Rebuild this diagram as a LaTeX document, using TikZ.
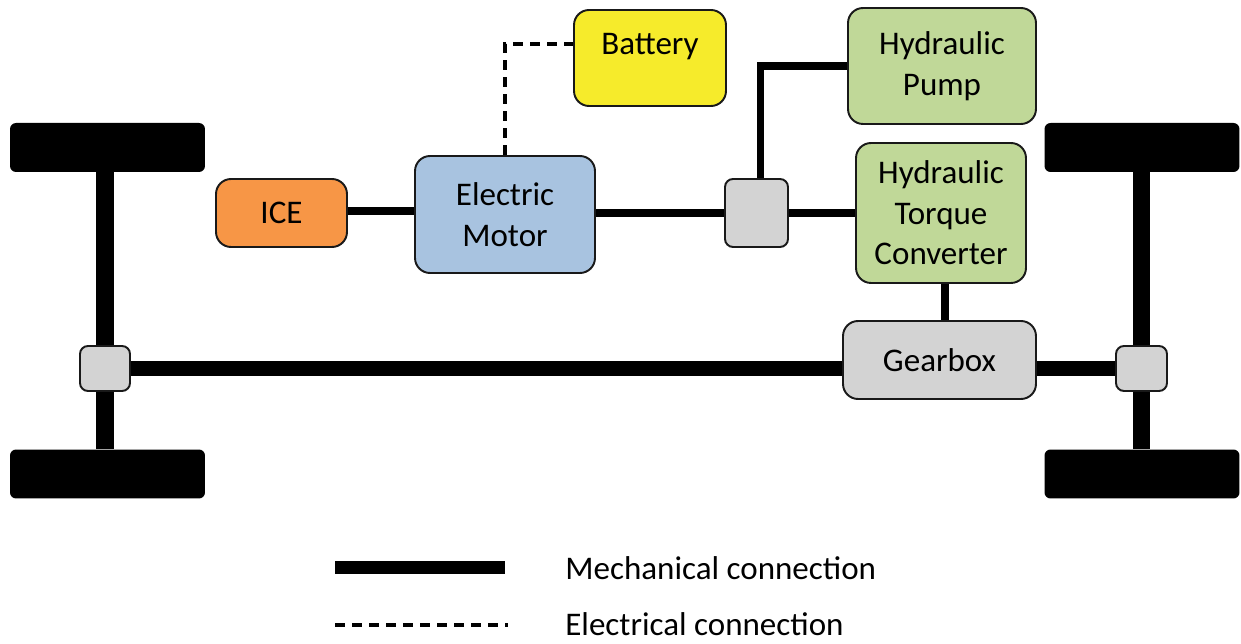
\documentclass[tikz,border=0pt]{standalone}
\usepackage{fontspec}
\setmainfont{Carlito}
\usepackage{xcolor}
\usetikzlibrary{positioning, backgrounds}

\definecolor{iceorange}{HTML}{F79646}
\definecolor{motorblue}{HTML}{A8C3E0}
\definecolor{battyellow}{HTML}{F6EB2B}
\definecolor{hydgreen}{HTML}{C0D898}
\definecolor{jointgray}{HTML}{D3D3D3}

\begin{document}
\begin{tikzpicture}[
    x=0.02cm, y=-0.02cm,
    box/.style={rectangle, rounded corners=0.3cm, draw=black!90, line width=1.1pt, align=center, inner sep=0pt, font=\fontsize{18.8}{23}\selectfont},
    joint/.style={rectangle, rounded corners=0.16cm, draw=black!90, line width=1.1pt, fill=jointgray, inner sep=0pt},
    wheel/.style={rectangle, rounded corners=0.12cm, fill=black, minimum width=3.9cm, minimum height=0.98cm, inner sep=0pt},
    shaft/.style={line width=8pt},
    axle/.style={line width=10pt},
    link/.style={line width=4pt},
    elec/.style={line width=2.1pt, dash pattern=on 5.7pt off 4pt},
    legend/.style={anchor=west, inner sep=0pt, font=\fontsize{18.8}{23}\selectfont}
]
\useasboundingbox (0,0) rectangle (1241,644);

% wheels
\node[wheel] (lwt) at (107.5,147.5) {};
\node[wheel] (lwb) at (107.5,474) {};
\node[wheel] (rwt) at (1142,147.5) {};
\node[wheel] (rwb) at (1142,474) {};

% components
\node[box, fill=iceorange, minimum width=2.62cm, minimum height=1.36cm] (ice) at (281.5,213) {ICE};
\node[box, fill=motorblue, minimum width=3.6cm, minimum height=2.34cm] (motor) at (505,214.5) {Electric\\Motor};
\node[box, fill=battyellow, minimum width=3.04cm, minimum height=1.92cm, text height=0.9cm, text depth=1.02cm] (battery) at (650,58) {Battery};
\node[joint, minimum width=1.26cm, minimum height=1.36cm] (mjoint) at (756.5,213) {};
\node[box, fill=hydgreen, minimum width=3.76cm, minimum height=2.32cm] (pump) at (942,66) {Hydraulic\\Pump};
\node[box, fill=hydgreen, minimum width=3.4cm, minimum height=2.8cm] (torque) at (941,213) {Hydraulic\\Torque\\Converter};
\node[box, fill=jointgray, minimum width=3.86cm, minimum height=1.56cm] (gearbox) at (939.5,360) {Gearbox};
\node[joint, minimum width=1.0cm, minimum height=0.9cm] (ljoint) at (105,368.5) {};
\node[joint, minimum width=1.02cm, minimum height=0.9cm] (rjoint) at (1141.5,368.5) {};

% legend
\coordinate (mechL) at (335,568);
\coordinate (mechR) at (505,568);
\coordinate (elecL) at (335,625);
\coordinate (elecR) at (508,625);
\node[legend] (mechtxt) at (565,568) {Mechanical connection};
\node[legend] (electxt) at (565,624) {Electrical connection};
\coordinate (batin) at ([yshift=-0.7cm]battery.north west);

\begin{scope}[on background layer]
\draw[axle] (lwt.south -| ljoint) -- (lwb.north -| ljoint);
\draw[axle] (rwt.south -| rjoint) -- (rwb.north -| rjoint);
\draw[shaft] (ljoint.east) -- (ljoint.east -| gearbox.west);
\draw[shaft] (rjoint.west -| gearbox.east) -- (rjoint.west);
\draw[link] (ice.east |- 0,211) -- (motor.west |- 0,211);
\draw[link] (mjoint.west -| motor.east) -- (mjoint.west);
\draw[link] (mjoint.east) -- (mjoint.east -| torque.west);
\draw[link] ([xshift=0.08cm]mjoint.north) |- (pump.west);
\draw[link] ([xshift=0.08cm]torque.south) -- ([xshift=0.08cm]torque.south |- gearbox.north);
\draw[elec] (motor.north) |- (batin);
\end{scope}

\draw[line width=7.4pt] (mechL) -- (mechR);
\draw[elec] (elecL) -- (elecR);
\end{tikzpicture}
\end{document}
